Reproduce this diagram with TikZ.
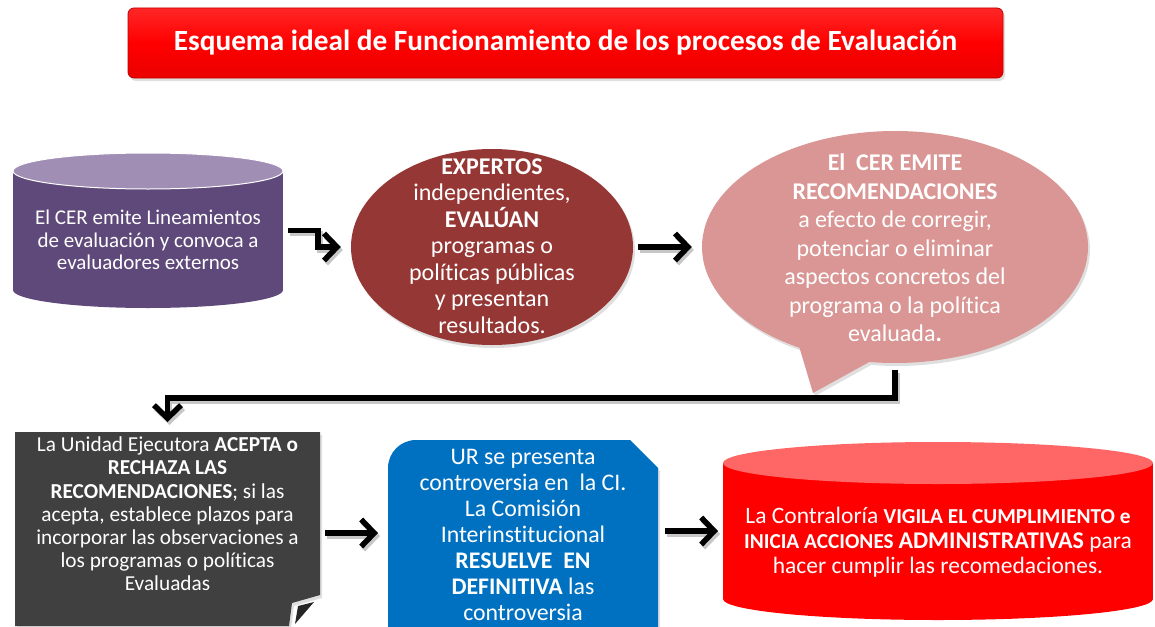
\documentclass[tikz,border=0pt]{standalone}
\usepackage{fontspec}
\setmainfont{Carlito}[Ligatures={NoCommon}]
\usetikzlibrary{shapes.geometric,shapes.callouts,arrows.meta,shadows,calc}
\definecolor{purTop}{HTML}{A08EB4}
\definecolor{purBody}{HTML}{5F497A}
\definecolor{dkred}{HTML}{953735}
\definecolor{pinkc}{HTML}{D99694}
\definecolor{grayc}{HTML}{404040}
\definecolor{grayfold}{HTML}{262626}
\definecolor{bluec}{HTML}{0070C0}
\definecolor{redTop}{HTML}{FF6666}
\definecolor{redc}{HTML}{FF0000}
\definecolor{titleedge}{HTML}{C00000}
\tikzset{
  frame/.style={draw=none,inner sep=0pt,outer sep=0pt},
  txt/.style={text=white,align=center,inner sep=0pt},
  arr/.style={line width=5.5pt,-{Straight Barb[length=13pt,width=27pt]},
    preaction={draw=black!22,line width=5.5pt,transform canvas={shift={(2pt,-3pt)}}}},
  shad/.style={drop shadow={opacity=0.25,shadow xshift=2pt,shadow yshift=-3pt}},
}
\begin{document}
\begin{tikzpicture}[x=1pt,y=-1pt]
\useasboundingbox (0,0) rectangle (1155,626);
\clip (0,0) rectangle (1155,626);

% title
\node[shad,rounded corners=6pt,draw=titleedge,line width=0.8pt,
  top color=red!85!white,bottom color=red!92!black,middle color=redc,
  minimum width=875pt,minimum height=70pt,text=white,
  font=\fontsize{29.3}{32}\selectfont\bfseries] (title) at (565.5,43) {Esquema ideal de Funcionamiento de los procesos de Evaluación};

% purple cylinder
\fill[purBody] (13,171) rectangle (283,290);
\fill[purBody] (148,290) ellipse[x radius=135, y radius=18];
\fill[purTop] (148,171) ellipse[x radius=135, y radius=18];
\draw[white,line width=1pt] (148,171) ellipse[x radius=135, y radius=18];
\node[frame,minimum width=270pt,minimum height=155pt] (cyl1) at (148,230.5) {};
\node[txt,font=\fontsize{21}{22.5}\selectfont] (cyl1t) at (148,240) {El CER emite Lineamientos\\de evaluación y convoca a\\evaluadores externos};

% dark red ellipse
\node[ellipse,shad,fill=dkred,minimum width=282pt,minimum height=196pt,inner sep=0pt] (n2) at (492,247) {};
\node[txt,font=\fontsize{24}{26.5}\selectfont] (n2t) at (492,246)
  {\textbf{EXPERTOS}\\independientes,\\\textbf{EVALÚAN}\\programas o\\políticas públicas\\y presentan\\resultados.};

% callout
\node[ellipse callout,shad,fill=pinkc,minimum width=386pt,minimum height=232pt,inner sep=0pt,
  callout absolute pointer={(813,393)},callout pointer arc=22] (bub) at (895,247) {};
\node[txt,font=\fontsize{24}{28.5}\selectfont] (bubt) at (895,248)
  {\textbf{El\ \ CER EMITE}\\\textbf{RECOMENDACIONES}\\a efecto de corregir,\\potenciar o eliminar\\aspectos concretos del\\programa o la política\\evaluada\textbf{.}};

% gray note with curled corner
\node[frame,minimum width=305pt,minimum height=194pt] (gray) at (167.5,529) {};
\fill[grayc,shad] (15,432) -- (320,432) -- (320,595) -- (292,603) -- (289,626) -- (15,626) -- cycle;
\fill[grayfold] (314,602) -- (298,606) -- (295,624) -- cycle;
\node[txt,font=\fontsize{21.3}{23.2}\selectfont] (grayt) at (167.5,514)
  {La Unidad Ejecutora \textbf{ACEPTA o}\\\textbf{RECHAZA LAS}\\\textbf{RECOMENDACIONES}; si las\\acepta, establece plazos para\\incorporar las observaciones a\\los programas o políticas\\Evaluadas};

% blue box
\node[frame,minimum width=270pt,minimum height=186pt] (blue) at (523,533) {};
\fill[bluec,shad] (388,640) -- (388,468) arc[start angle=180,end angle=270,radius=28] -- (630,440) -- (658,468) -- (658,640) -- cycle;
\node[txt,font=\fontsize{23.8}{26}\selectfont] (bluet) at (523,535)
  {UR se presenta\\controversia en\ \ la CI.\\La Comisión\\Interinstitucional\\\textbf{RESUELVE\ \ EN}\\\textbf{DEFINITIVA} las\\controversia};

% red cylinder
\fill[redc] (723,463) rectangle (1153,599);
\fill[redc] (938,599) ellipse[x radius=215, y radius=21];
\fill[redTop] (938,463) ellipse[x radius=215, y radius=21];
\node[frame,minimum width=430pt,minimum height=178pt] (rcyl) at (938,531) {};
\node[txt,font=\fontsize{23.5}{25}\selectfont] (rcylt) at (938,542)
  {La Contraloría {\fontsize{21.3}{25}\selectfont\bfseries VIGILA EL CUMPLIMIENTO e}\\{\fontsize{21.3}{25}\selectfont\bfseries INICIA ACCIONES {\fontsize{24}{25}\selectfont ADMINISTRATIVAS}} para\\hacer cumplir las recomedaciones.};

% connectors
\draw[arr] ([xshift=5pt]cyl1.east) -| ($(n2.west)+(-33,0)$) -- ([xshift=-10pt]n2.west);
\draw[arr] ([xshift=5pt]n2.east) -- ([xshift=-10pt]bub.west);
\draw[arr] ([yshift=-7pt]bub.south) -- ++(0,28) -| ([yshift=10pt]gray.north);
\draw[arr] ([xshift=5pt]gray.east |- blue.west) -- ([xshift=-10pt]blue.west);
\draw[arr] ([xshift=7pt]blue.east |- rcyl.west) -- ([xshift=-5pt]rcyl.west);
\end{tikzpicture}
\end{document}
